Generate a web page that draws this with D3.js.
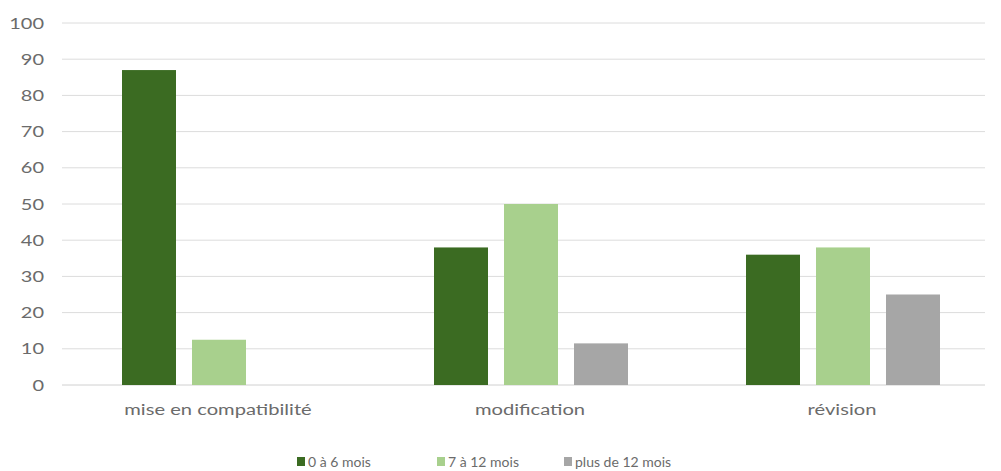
<!DOCTYPE html>
<html><head><meta charset="utf-8">
<script src="https://cdn.jsdelivr.net/npm/d3@7"></script>
<style>body{margin:0;background:#fff}svg{display:block}text{font-family:Lato,"Open Sans",sans-serif;fill:#6b6b6b}</style>
</head><body><svg id="c" width="1001" height="471"></svg>
<script>
const categories = ["mise en compatibilité", "modification", "révision"];
const series = ["0 à 6 mois", "7 à 12 mois", "plus de 12 mois"];
const s0 = [87, 38, 36];      // 0 à 6 mois
const s1 = [12.5, 50, 38];    // 7 à 12 mois
const s2 = [0, 11.5, 25];     // plus de 12 mois
const yTicks = [0,10,20,30,40,50,60,70,80,90,100];
const colors = ["#3b6b22", "#a8d08d", "#a6a6a6"];

const values = [s0, s1, s2];
const svg = d3.select("#c");
const y = d3.scaleLinear().domain([0,100]).range([385,23]);
const x0 = d3.scaleBand().domain(categories).range([62,998]);
const x1 = d3.scaleBand().domain(series).range([60,254]).paddingInner(16/70);

svg.append("g").selectAll("line").data(yTicks).join("line")
  .attr("x1",62).attr("x2",985).attr("y1",d=>y(d)).attr("y2",d=>y(d))
  .attr("stroke",d=>d===0?"#d0d0d0":"#dcdcdc").attr("stroke-width",1);

const yAxis = d3.axisLeft(y).tickValues(yTicks).tickSize(0).tickPadding(0);
const ga = svg.append("g").attr("transform","translate(44,0)").call(yAxis);
ga.select(".domain").remove();
ga.selectAll("text").style("font-size","16px").attr("fill","#6b6b6b")
  .attr("font-family","Lato,'Open Sans',sans-serif").attr("transform","scale(1.25,1)");

categories.forEach((c,ci)=>{
  series.forEach((s,si)=>{
    const v = values[si][ci];
    if (v>0) svg.append("rect")
      .attr("x", x0(c)+x1(s)).attr("width", x1.bandwidth())
      .attr("y", y(v)).attr("height", y(0)-y(v)).attr("fill", colors[si]);
  });
});

const xAxis = d3.axisBottom(x0).tickSize(0).tickPadding(0);
const gx = svg.append("g").attr("transform","translate(0,404)").call(xAxis);
gx.select(".domain").remove();
gx.selectAll("text").style("font-size","16px").attr("fill","#6b6b6b")
  .attr("font-family","Lato,'Open Sans',sans-serif").attr("transform","scale(1.26,1)");

const legX = [297, 437, 564];
const lg = svg.append("g");
series.forEach((s,i)=>{
  lg.append("rect").attr("x",legX[i]).attr("y",457).attr("width",8).attr("height",9).attr("fill",colors[i]);
  lg.append("text").attr("x",legX[i]+11).attr("y",467).style("font-size","14px").text(s);
});
</script></body></html>
